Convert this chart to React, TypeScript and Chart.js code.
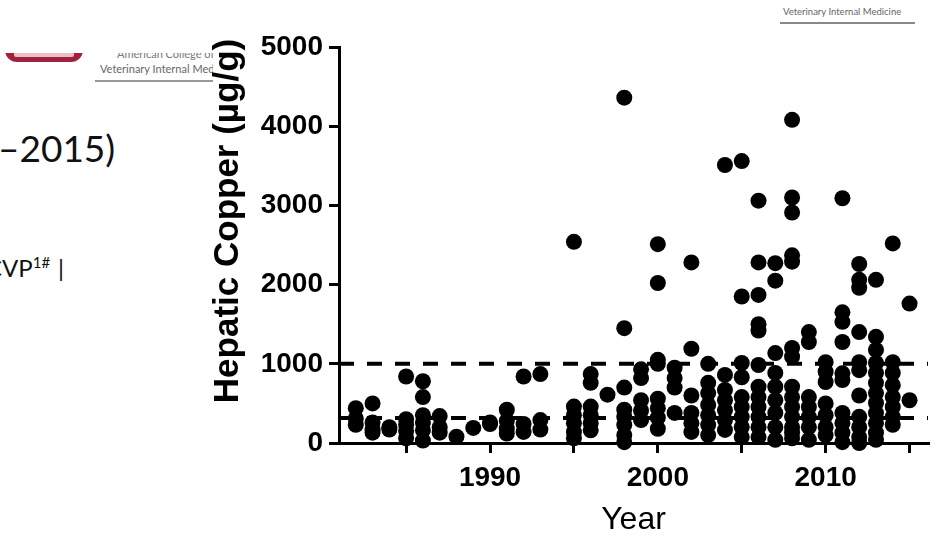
import React, { useEffect, useRef } from 'react';
import { Chart, registerables } from 'chart.js';

Chart.register(...registerables);

// ---- data ----
const years = [1982, 1983, 1984, 1985, 1986, 1987, 1988, 1989, 1990, 1991, 1992, 1993, 1995, 1996, 1997, 1998, 1999, 2000, 2001, 2002, 2003, 2004, 2005, 2006, 2007, 2008, 2009, 2010, 2011, 2012, 2013, 2014, 2015];
const copperByYear: number[][] = [
  [440, 310, 230], // 1982
  [500, 260, 170, 130], // 1983
  [200, 170], // 1984
  [840, 300, 230, 150, 60], // 1985
  [780, 580, 350, 260, 160, 30], // 1986
  [340, 200, 130], // 1987
  [80], // 1988
  [190], // 1989
  [260, 240], // 1990
  [420, 280, 180, 120], // 1991
  [840, 240, 140], // 1992
  [870, 290, 170], // 1993
  [2540, 460, 350, 250, 140, 60], // 1995
  [870, 760, 460, 350, 250, 160], // 1996
  [610], // 1997
  [4360, 1450, 700, 420, 330, 230, 100, 10], // 1998
  [930, 820, 540, 410, 290], // 1999
  [2510, 2020, 1050, 1000, 560, 440, 320, 180], // 2000
  [950, 820, 700, 380], // 2001
  [2280, 1190, 600, 380, 250, 140], // 2002
  [1000, 760, 630, 480, 350, 230, 100], // 2003
  [3510, 860, 670, 540, 415, 290, 165], // 2004
  [3560, 1850, 1010, 830, 580, 455, 330, 200, 75], // 2005
  [3060, 2280, 1870, 1500, 1420, 985, 710, 580, 455, 330, 200, 75], // 2006
  [2270, 2050, 1135, 885, 710, 540, 380, 200, 40], // 2007
  [4080, 3100, 2910, 2370, 2290, 1200, 1090, 710, 580, 455, 330, 200, 130, 60], // 2008
  [1400, 1275, 580, 455, 330, 200, 40], // 2009
  [1020, 900, 770, 500, 350, 200, 100], // 2010
  [3090, 1650, 1530, 1275, 880, 795, 380, 250, 130, 10], // 2011
  [2260, 2060, 1960, 1400, 1020, 920, 600, 330, 200, 75, 0], // 2012
  [2060, 1340, 1175, 1010, 885, 760, 630, 505, 380, 250, 130, 40], // 2013
  [2520, 1020, 885, 730, 580, 455, 330, 230], // 2014
  [1760, 540], // 2015
];
const referenceLines = [1000, 315];
const xRange = [1981, 2016.1];
const xTickValues = [1985, 1990, 1995, 2000, 2005, 2010, 2015];
const xLabelYears = [1990, 2000, 2010];
const yRange = [0, 5000];
const yStep = 1000;
const xTitle = 'Year';
const yTitle = 'Hepatic Copper (\u00b5g/g)';

const FONT = '"Liberation Sans", Arial, Helvetica, sans-serif';

const yTitlePlugin = {
  id: 'yTitleCustom',
  afterDraw(chart: any) {
    const { ctx, chartArea } = chart;
    ctx.save();
    ctx.translate(chartArea.left - 101, (chartArea.top + chartArea.bottom) / 2 - 24);
    ctx.rotate(-Math.PI / 2);
    ctx.font = `bold 35px ${FONT}`;
    ctx.fillStyle = '#000';
    ctx.textAlign = 'center';
    ctx.textBaseline = 'alphabetic';
    ctx.fillText(yTitle, 0, 0);
    ctx.restore();
  },
};

export default function App() {
  const canvasRef = useRef<HTMLCanvasElement | null>(null);

  useEffect(() => {
    const canvas = canvasRef.current;
    if (!canvas) return;
    const points: { x: number; y: number }[] = [];
    years.forEach((yr, i) => {
      copperByYear[i].forEach((v) => points.push({ x: yr, y: v }));
    });
    const lineSets = referenceLines.map((v) => ({
      type: 'line' as const,
      data: [
        { x: xRange[0], y: v },
        { x: xRange[1], y: v },
      ],
      borderColor: '#000',
      borderWidth: 4,
      borderDash: [15, 13],
      pointRadius: 0,
      fill: false,
      clip: false as any,
    }));
    const grid = {
      drawOnChartArea: false,
      drawTicks: true,
      tickLength: 10,
      color: '#000',
      lineWidth: 3,
    };
    const border = { display: true, color: '#000', width: 3 };
    const chart = new Chart(canvas, {
      type: 'scatter',
      data: {
        datasets: [
          {
            type: 'scatter',
            data: points,
            pointRadius: 8,
            pointHoverRadius: 8,
            pointBackgroundColor: '#000',
            pointBorderWidth: 0,
            borderColor: '#000',
            clip: false as any,
          },
          ...(lineSets as any[]),
        ],
      },
      options: {
        animation: false,
        responsive: false,
        maintainAspectRatio: false,
        layout: { padding: { top: 47, right: 13, bottom: 0, left: 0 } },
        plugins: {
          legend: { display: false },
          tooltip: { enabled: false },
        },
        scales: {
          x: {
            type: 'linear',
            min: xRange[0],
            max: xRange[1],
            afterBuildTicks: (s: any) => {
              s.ticks = xTickValues.map((v) => ({ value: v }));
            },
            afterFit: (s: any) => {
              s.height = 97;
            },
            ticks: {
              autoSkip: false,
              maxRotation: 0,
              padding: 8,
              color: '#000',
              font: { family: FONT, size: 28, weight: 'bold' },
              callback: (v: any) => (xLabelYears.includes(Number(v)) ? String(v) : ''),
            },
            grid,
            border,
            title: {
              display: true,
              text: xTitle,
              color: '#000',
              font: { family: FONT, size: 32, weight: 'normal' },
              padding: { top: 0, bottom: 1 },
            },
          },
          y: {
            min: yRange[0],
            max: yRange[1],
            afterFit: (s: any) => {
              s.width = 339;
            },
            ticks: {
              stepSize: yStep,
              padding: 6,
              color: '#000',
              font: { family: FONT, size: 28, weight: 'bold' },
              callback: (v: any) => String(v),
            },
            grid,
            border,
          },
        },
      } as any,
      plugins: [yTitlePlugin],
    });
    return () => chart.destroy();
  }, []);

  return (
    <div style={{ position: 'fixed', left: 0, top: 0, width: 941, height: 540, background: '#fff', overflow: 'hidden' }}>
      {/* page fragments behind the chart */}
      <div style={{ position: 'absolute', left: 0, top: 0, width: 213, height: 540, overflow: 'hidden', fontFamily: 'Lato, sans-serif' }}>
        <div style={{ position: 'absolute', left: 5, top: 38, width: 78, height: 24, background: '#a3203a', borderRadius: 12 }} />
        <div style={{ position: 'absolute', left: 14, top: 52, width: 60, height: 5, background: '#e8c0c8', borderRadius: 2 }} />
        <div style={{ position: 'absolute', left: 117, top: 47, fontSize: 11, color: '#777', whiteSpace: 'nowrap' }}>American College of</div>
        <div style={{ position: 'absolute', left: 0, top: 0, width: 213, height: 53, background: '#fff' }} />
        <div style={{ position: 'absolute', left: 100, top: 62, fontSize: 11, color: '#666', whiteSpace: 'nowrap' }}>Veterinary Internal Medicine</div>
        <div style={{ position: 'absolute', left: 95, top: 80, width: 130, height: 2, background: '#999' }} />
        <div style={{ position: 'absolute', left: -2, top: 130, fontSize: 37, lineHeight: '36px', color: '#111', whiteSpace: 'nowrap' }}>{'\u20132015)'}</div>
        <div style={{ position: 'absolute', left: -14, top: 250, fontSize: 24, lineHeight: '24px', color: '#111', whiteSpace: 'nowrap' }}>
          CVP<sup style={{ fontSize: 15 }}>1#</sup>
          <span style={{ marginLeft: 8 }}>|</span>
        </div>
      </div>
      <div style={{ position: 'absolute', left: 783, top: 6, fontFamily: 'Lato, sans-serif', fontSize: 9.5, color: '#666', whiteSpace: 'nowrap' }}>Veterinary Internal Medicine</div>
      <div style={{ position: 'absolute', left: 780, top: 22, width: 135, height: 2, background: '#888' }} />
      <canvas ref={canvasRef} width={941} height={540} style={{ position: 'absolute', left: 0, top: 0, width: 941, height: 540 }} />
    </div>
  );
}
